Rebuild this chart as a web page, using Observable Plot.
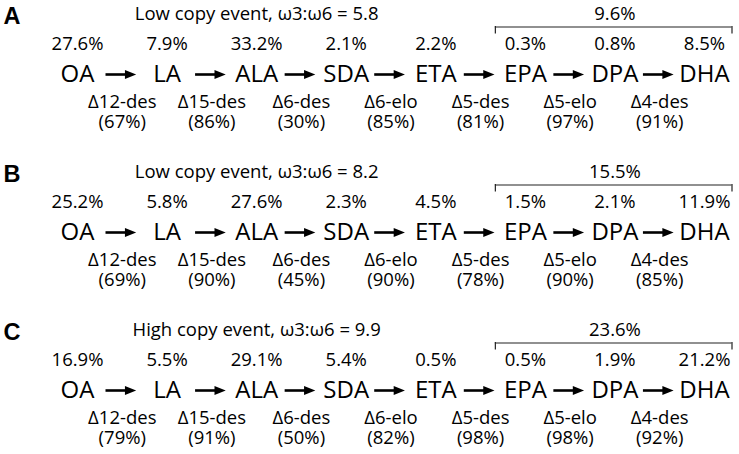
<!DOCTYPE html>
<html><head><meta charset="utf-8">
<script src="https://cdn.jsdelivr.net/npm/d3@7"></script>
<script src="https://cdn.jsdelivr.net/npm/@observablehq/plot@0.6"></script>
<style>body{margin:0;background:#fff}</style>
</head><body><div id="chart"></div>
<script>
// ---- data ----
const panels = ["A", "B", "C"];
const titles = ["Low copy event, ω3:ω6 = 5.8", "Low copy event, ω3:ω6 = 8.2", "High copy event, ω3:ω6 = 9.9"];
const compounds = ["OA", "LA", "ALA", "SDA", "ETA", "EPA", "DPA", "DHA"];
const enzymes = ["Δ12-des", "Δ15-des", "Δ6-des", "Δ6-elo", "Δ5-des", "Δ5-elo", "Δ4-des"];
const pctA = [27.6, 7.9, 33.2, 2.1, 2.2, 0.3, 0.8, 8.5];
const pctB = [25.2, 5.8, 27.6, 2.3, 4.5, 1.5, 2.1, 11.9];
const pctC = [16.9, 5.5, 29.1, 5.4, 0.5, 0.5, 1.9, 21.2];
const effA = [67, 86, 30, 85, 81, 97, 91];
const effB = [69, 90, 45, 90, 78, 90, 85];
const effC = [79, 91, 50, 82, 98, 98, 92];
const totals = [9.6, 15.5, 23.6]; // EPA + DPA + DHA

// ---- tables ----
const pcts = [pctA, pctB, pctC];
const effs = [effA, effB, effC];
const compTable = [], enzTable = [];
panels.forEach((p, k) => {
  compounds.forEach((c, i) => compTable.push({panel: p, i, name: c, pct: pcts[k][i]}));
  enzymes.forEach((e, i) => enzTable.push({panel: p, i, name: e, eff: effs[k][i]}));
});
const panelTable = panels.map((p, k) => ({panel: p, title: titles[k], total: totals[k]}));
const iTitle = compounds.indexOf("ALA");
const iFrom = compounds.indexOf("EPA"), iTo = compounds.indexOf("DHA"), iMid = compounds.indexOf("DPA");

// filled arrowhead pointing right (size-based)
const arrowHead = {
  draw(context, size) {
    const s = Math.sqrt(size / Math.PI);
    context.moveTo(1.25 * s, 0);
    context.lineTo(-1.25 * s, -s);
    context.lineTo(-1.25 * s, s);
    context.closePath();
  }
};

const font = "'Open Sans', sans-serif";
const fs = 18.5;
const chart = Plot.plot({
  width: 739,
  height: 454,
  marginLeft: 0, marginRight: 0, marginTop: 0, marginBottom: 0,
  style: {fontFamily: font, background: "#fff", color: "#000", overflow: "visible"},
  x: {type: "linear", domain: [0, 7], range: [77, 704], axis: null},
  y: {type: "point", domain: panels, range: [73.5, 391], padding: 0, axis: null},
  marks: [
    // panel letters
    Plot.text(panelTable, {frameAnchor: "left", y: "panel", text: "panel", dx: 3, dy: -58.5, textAnchor: "start",
      fontSize: 23.5, fontWeight: "bold", fontFamily: "'Liberation Sans', Arial, sans-serif", fill: "#000"}),
    // titles
    Plot.text(panelTable, {x: () => iTitle, y: "panel", text: "title", dy: -60, fontSize: fs, fill: "#000"}),
    // totals over bracket
    Plot.text(panelTable, {x: () => iMid, y: "panel", text: d => d.total.toFixed(1) + "%", dy: -60, fontSize: fs, fill: "#000"}),
    // bracket
    Plot.ruleY(panelTable, {x1: () => iFrom, x2: () => iTo, y: "panel", dy: -47.5, insetLeft: -30, insetRight: -27.5, stroke: "#222", strokeWidth: 1.2}),
    Plot.ruleX(panelTable, {x: () => iFrom, y1: "panel", y2: "panel", insetTop: -48, insetBottom: 40.5, dx: -30, stroke: "#222", strokeWidth: 1.2}),
    Plot.ruleX(panelTable, {x: () => iTo, y1: "panel", y2: "panel", insetTop: -48, insetBottom: 40.5, dx: 27.5, stroke: "#222", strokeWidth: 1.2}),
    // percentages
    Plot.text(compTable, {x: "i", y: "panel", text: d => d.pct.toFixed(1) + "%", dy: -30, fontSize: fs, fill: "#000"}),
    // compounds
    Plot.text(compTable, {x: "i", y: "panel", text: "name", fontSize: 24, fill: "#000"}),
    // arrows
    Plot.arrow(enzTable, {x1: "i", x2: d => d.i + 1, y: "panel", insetStart: 28, insetEnd: 36, headLength: 0,
      stroke: "#000", strokeWidth: 2.6, strokeLinecap: "butt"}),
    Plot.dot(enzTable, {x: d => d.i + 1, y: "panel", symbol: arrowHead, r: 4.5, dx: -36.5, fill: "#000", stroke: "none"}),
    // enzymes
    Plot.text(enzTable, {x: d => d.i + 0.5, y: "panel", text: "name", dy: 27.5, fontSize: fs, fill: "#000"}),
    Plot.text(enzTable, {x: d => d.i + 0.5, y: "panel", text: d => `(${d.eff}%)`, dy: 48, fontSize: fs, fill: "#000"})
  ]
});
document.getElementById("chart").appendChild(chart);
</script>
</body></html>
